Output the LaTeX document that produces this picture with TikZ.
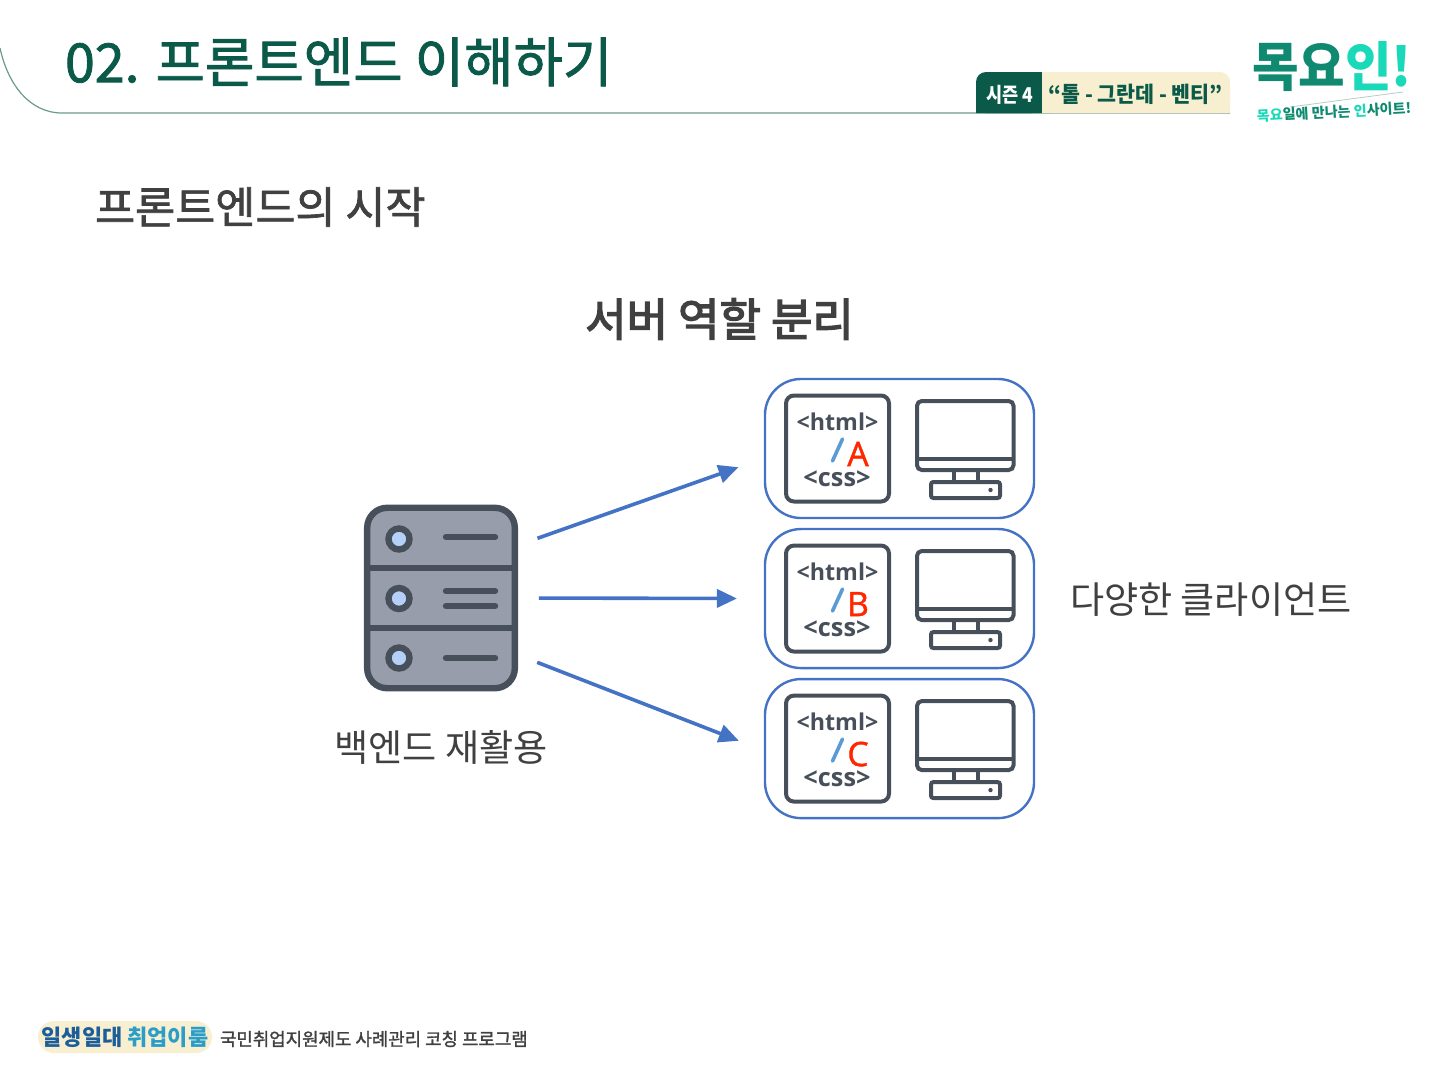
\documentclass[tikz,border=0pt]{standalone}
\usepackage{fontspec}
\setmainfont{Noto Sans CJK KR}
\newfontfamily\mediumfont[FakeBold=1.6]{Noto Sans CJK KR}
\newfontfamily\semifont[FakeBold=3]{Noto Sans CJK KR}
\newfontfamily\webfont{Open Sans}
\newfontfamily\letterfont[FakeBold=1.2]{Open Sans}
\usetikzlibrary{positioning,arrows.meta}
\definecolor{deepgreen}{HTML}{0B5A49}
\definecolor{headline}{HTML}{6B9A8D}
\definecolor{badgecream}{HTML}{F7EFD0}
\definecolor{logogreen}{HTML}{0F8A70}
\definecolor{logoteal}{HTML}{19D9B8}
\definecolor{inkgrey}{HTML}{404040}
\definecolor{icongrey}{HTML}{47505A}
\definecolor{serverfill}{HTML}{979DAB}
\definecolor{ledblue}{HTML}{B4D0F8}
\definecolor{cardblue}{HTML}{4472C4}
\definecolor{slashblue}{HTML}{5B9BD5}
\definecolor{letterred}{HTML}{FF2600}
\definecolor{footblue}{HTML}{1C5E99}
\definecolor{footteal}{HTML}{2A9DC9}
\newcommand{\fsize}[1]{\fontsize{#1}{#1}\selectfont}

\begin{document}
\begin{tikzpicture}[x=0.025cm, y=-0.025cm, node distance=0.275cm,
    label/.style={inner sep=0pt, outer sep=0pt},
    clientcard/.style={draw=cardblue, line width=0.06cm, rounded corners=0.9cm,
      minimum width=6.725cm, minimum height=3.475cm, outer sep=0pt},
    serverbox/.style={draw=icongrey, fill=serverfill, line width=0.16cm, rounded corners=0.5cm,
      minimum width=3.69cm, minimum height=4.51cm, outer sep=0pt},
    icon/.style={draw=icongrey, line width=0.1cm},
    led/.style={draw=icongrey, fill=ledblue, line width=0.16cm},
    slot/.style={draw=icongrey, line width=0.16cm, line cap=round},
    flowarrow/.style={color=cardblue, line width=0.09cm, shorten <=0.6cm, shorten >=0.7cm,
      -{Triangle[length=0.5cm, width=0.45cm]}},
    pics/webclient/.style={code={
      \draw[icon, fill=white, rounded corners=0.2cm] (-113.5,-53) rectangle (-10.5,53);
      \node[label, text=icongrey, font=\webfont\bfseries\fsize{16.5}] at (-62,-27) {<html>};
      \node[label, text=icongrey, font=\webfont\bfseries\fsize{18}] at (-62.5,30) {<css>};
      \draw[draw=slashblue, line width=0.09cm, line cap=round] (-57,-9.5) -- (-67,12.5);
      \node[label, text=letterred, font=\letterfont\fsize{24}] at (-41.5,5.5) {#1};
      \draw[icon, rounded corners=0.12cm] (17.5,-47.5) rectangle (114,21.5);
      \draw[icon] (17.5,10.5) -- (114,10.5);
      \draw[icon] (54,21.5) -- (54,33.5) (78.5,21.5) -- (78.5,33.5);
      \draw[icon, rounded corners=0.06cm] (31.5,33.5) rectangle (100.5,49.5);
      \fill[icongrey] (91,41.5) circle (2.2);
    }}]
  \useasboundingbox (0,0) rectangle (1440,1080);

  % header
  \draw[headline, line width=0.03cm] (0,48) .. controls (8,85) and (30,113) .. (62,113) -- (1230,113);
  \node[label, anchor=west, text=deepgreen, font=\mediumfont\fsize{38.2}] (title) at (65,62) {02. 프론트엔드 이해하기};
  \fill[deepgreen, rounded corners=0.25cm] (976,113) -- (976,72) -- (1042,72) -- (1042,113) -- cycle;
  \fill[deepgreen] (976,90) rectangle (1042,113) (1000,72) rectangle (1042,113);
  \fill[badgecream, rounded corners=0.25cm] (1042,113) -- (1042,72) -- (1230,72) -- (1230,113) -- cycle;
  \fill[badgecream] (1042,72) rectangle (1200,113) (1042,90) rectangle (1230,113);
  \node[label, xscale=0.86, text=white, font=\bfseries\fsize{14.5}] (season) at (1010,94.5) {시즌 4};
  \node[label, xscale=0.945, text=deepgreen, font=\bfseries\fsize{15.5}] (sizes) at (1135.5,94.5) {“톨 - 그란데 - 벤티”};

  % logo
  \node[label, xscale=0.9, yscale=0.95, font=\bfseries\fsize{40}] (logo) at (1332,67)
    {\textcolor{logogreen}{목요}\textcolor{logoteal}{인!}};
  \draw[headline!50, line width=0.02cm] (1290,107) -- (1403,92);
  \node[label, rotate=3, font=\bfseries\fsize{10}, text=logogreen] (slogan) at (1334,112)
    {\textcolor{logoteal}{목요}일에 만나는 \textcolor{logoteal}{인}사이트!};

  \node[label, anchor=west, text=inkgrey, font=\mediumfont\fsize{31}] (section) at (95,207) {프론트엔드의 시작};
  \node[label, text=inkgrey, font=\semifont\fsize{32}] (heading) at (719.5,319) {서버 역할 분리};

  % server
  \node[serverbox] (server) at (441,598) {};
  \draw[icon, line width=0.16cm] (367.5,568) -- (515,568) (367.5,628) -- (515,628);
  \draw[led] (399,539) circle (10.5) (399,598.5) circle (10.5) (399,658) circle (10.5);
  \draw[slot] (446,537) -- (495,537) (446,591) -- (495,591) (446,606) -- (495,606) (446,658) -- (495,658);
  \node[label, text=inkgrey, font=\fsize{26.4}] (backend) [below=1.05cm of server] {백엔드 재활용};

  % clients
  \node[clientcard] (clientA) at (899.5,448.5) {};
  \node[clientcard] (clientB) [below=of clientA] {};
  \node[clientcard] (clientC) [below=of clientB] {};
  \node[label, text=inkgrey, font=\fsize{26.4}, yshift=-0.03cm] (various) [right=0.9cm of clientB] {다양한 클라이언트};
  \foreach \card/\mark in {clientA/A, clientB/B, clientC/C}
    \pic at (\card) {webclient=\mark};

  \path
    (server.35) edge[flowarrow] (clientA.184)
    (server.east) edge[flowarrow] (clientB.west)
    (server.-37) edge[flowarrow] (clientC.181);

  % footer
  \node[label, fill=badgecream, rounded corners=0.4cm, minimum width=4.35cm, minimum height=0.8cm] (ribbon) at (125,1037) {};
  \node[label, font=\bfseries\fsize{15.6}] (pledge) at (ribbon)
    {\textcolor{footblue}{일생일대} \textcolor{footteal}{취업이룸}};
  \node[label, anchor=west, text=inkgrey, font=\mediumfont\fsize{12.7}] (program) at (220,1039) {국민취업지원제도 사례관리 코칭 프로그램};
\end{tikzpicture}
\end{document}
